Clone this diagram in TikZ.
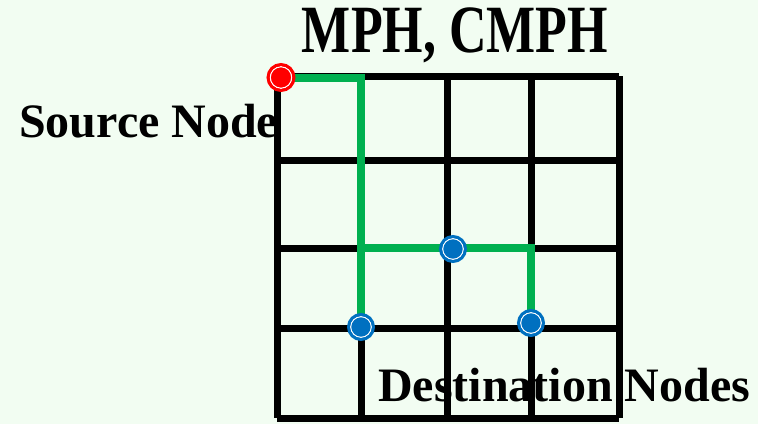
\documentclass[tikz,border=0pt]{standalone}
\usepackage{fontspec}
\setmainfont{Liberation Serif}
\definecolor{bgc}{HTML}{F2FDF2}
\definecolor{pathgreen}{HTML}{00B050}
\definecolor{nodeblue}{HTML}{0070C0}
\definecolor{nodered}{HTML}{FF0000}
\begin{document}
\begin{tikzpicture}[x=1pt,y=-1pt,
  gridline/.style={line width=7pt,black},
  route/.style={line width=8pt,pathgreen},
  dest/.style={circle,fill=nodeblue,draw=nodeblue,line width=3pt,minimum size=25pt,inner sep=0pt,
    path picture={\draw[white,line width=1.2pt] (path picture bounding box.center) circle (10.4pt);}},
  src/.style={circle,fill=nodered,draw=nodered,line width=3pt,minimum size=26pt,inner sep=0pt,
    path picture={\draw[white,line width=1.2pt] (path picture bounding box.center) circle (10.8pt);}},
  lbl/.style={inner sep=0pt,font=\fontsize{48}{52}\selectfont\bfseries}]
\fill[bgc] (0,0) rectangle (758,424);
\useasboundingbox (0,0) rectangle (758,424);
% grid
\foreach \x in {277,361,447,531,619}
  \draw[gridline] (\x,76) -- (\x,418);
\foreach \y in {76,160,248,328,418}
  \draw[gridline] (277,\y) -- (619,\y);
% nodes
\coordinate (s0) at (281,77.5);
\coordinate (d1p) at (361,327);
\coordinate (j) at (361,248);
\coordinate (d3p) at (531,323);
\draw[route] (s0) -| (d1p);
\draw[route] (j) -| (d3p);
\node[src] (s) at (s0) {};
\node[dest] (d1) at (d1p) {};
\node[dest] (d2) at (453,249) {};
\node[dest] (d3) at (d3p) {};
% labels
\node[lbl,anchor=base west] (srclbl) at (19,137) {Source Node};
\node[lbl,anchor=base west] (dstlbl) at (378,401) {Destination Nodes};
\node[inner sep=0pt,anchor=base,font=\fontsize{52}{56}\selectfont\bfseries] (title) at (455,52) {\scalebox{1}[1.3]{MPH, CMPH}};
\end{tikzpicture}
\end{document}
